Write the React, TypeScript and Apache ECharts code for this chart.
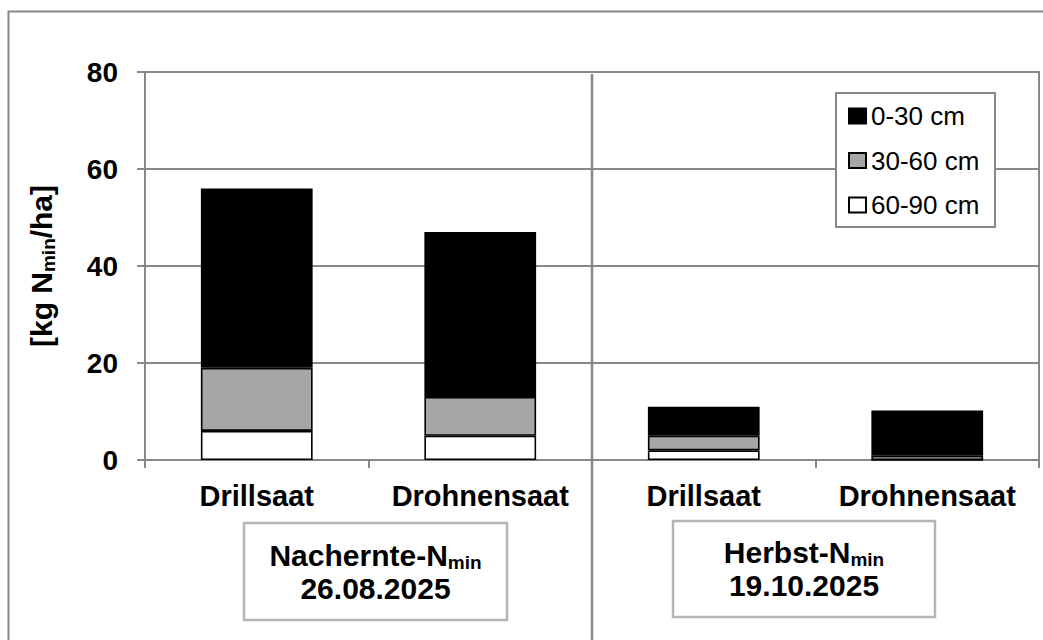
import React, { useEffect, useRef } from 'react';
import * as echarts from 'echarts';

const categories = ['Drillsaat', 'Drohnensaat', 'Drillsaat', 'Drohnensaat'];
const legendNames = ['0-30 cm', '30-60 cm', '60-90 cm'];
const depth0to30 = [37, 34, 6, 9.3];
const depth30to60 = [13, 8, 3, 0.9];
const depth60to90 = [6, 5, 2, 0];
const yMin = 0;
const yMax = 80;
const yStep = 20;
const groupTitles = ['Nachernte-N', 'Herbst-N'];
const groupDates = ['26.08.2025', '19.10.2025'];
const yTitleMain = ['[kg N', '/ha]'];
const subscript = 'min';

const FONT = '"Liberation Sans", Arial, sans-serif';
const GRID = '#888888';

export default function App() {
  const ref = useRef<HTMLDivElement>(null);
  useEffect(() => {
    if (!ref.current) return;
    const chart = echarts.init(ref.current, null, { renderer: 'svg' });
    const barStyle = (color: string) => ({ color, borderColor: '#000', borderWidth: 1.6 });
    const groupBox = (x: number, y: number, w: number, h: number, i: number) => [
      {
        type: 'rect',
        z: 3,
        shape: { x, y, width: w, height: h },
        style: { fill: '#fff', stroke: '#b5b5b5', lineWidth: 2.5 },
      },
      {
        type: 'text',
        z: 4,
        x: x + w / 2,
        y: y + h / 2,
        style: {
          text: `{b|${groupTitles[i]}}{s|${subscript}}\n{b|${groupDates[i]}}`,
          align: 'center',
          verticalAlign: 'middle',
          fill: '#000',
          rich: {
            b: { fontSize: 30, fontWeight: 'bold', fontFamily: FONT, lineHeight: 33, fill: '#000' },
            s: { fontSize: 19, fontWeight: 'bold', fontFamily: FONT, lineHeight: 8, verticalAlign: 'bottom', fill: '#000' },
          },
        },
      },
    ];
    chart.setOption({
      animation: false,
      backgroundColor: '#fff',
      textStyle: { fontFamily: FONT },
      grid: { left: 145, right: 4, top: 72, bottom: 180, show: true, borderColor: GRID, borderWidth: 2 },
      legend: {
        data: legendNames,
        orient: 'vertical',
        left: 848,
        top: 103,
        padding: 0,
        itemWidth: 17,
        itemHeight: 15,
        itemGap: 18.5,
        icon: 'rect',
        z: 5,
        textStyle: { fontSize: 26, color: '#000', fontFamily: FONT, lineHeight: 26 },
      },
      xAxis: {
        type: 'category',
        data: categories,
        axisLine: { lineStyle: { color: GRID, width: 2 } },
        axisTick: { show: true, interval: 0, length: 8, lineStyle: { color: GRID, width: 2 } },
        axisLabel: { interval: 0, margin: 21, fontSize: 29, fontWeight: 'bold', color: '#000', fontFamily: FONT },
      },
      yAxis: {
        type: 'value',
        min: yMin,
        max: yMax,
        interval: yStep,
        name: `${yTitleMain[0]}{s|${subscript}}${yTitleMain[1]}`,
        nameLocation: 'middle',
        nameGap: 87,
        nameRotate: 90,
        nameTextStyle: {
          fontSize: 30,
          fontWeight: 'bold',
          color: '#000',
          fontFamily: FONT,
          lineHeight: 34,
          rich: {
            s: { fontSize: 19, fontWeight: 'bold', fontFamily: FONT, lineHeight: 8, verticalAlign: 'bottom', color: '#000' },
          },
        },
        axisLine: { show: true, lineStyle: { color: GRID, width: 2 } },
        axisTick: { show: true, length: 8, lineStyle: { color: GRID, width: 2 } },
        axisLabel: { margin: 27, fontSize: 28, fontWeight: 'bold', color: '#000', fontFamily: FONT },
        splitLine: { show: true, lineStyle: { color: GRID, width: 2 } },
      },
      series: [
        { name: '60-90 cm', type: 'bar', stack: 'n', barWidth: '50%', data: depth60to90, itemStyle: barStyle('#ffffff') },
        { name: '30-60 cm', type: 'bar', stack: 'n', barWidth: '50%', data: depth30to60, itemStyle: barStyle('#a6a6a6') },
        { name: '0-30 cm', type: 'bar', stack: 'n', barWidth: '50%', data: depth0to30, itemStyle: barStyle('#000000') },
      ],
      graphic: [
        {
          type: 'rect',
          z: 1,
          silent: true,
          shape: { x: 8.5, y: 11.5, width: 1200, height: 800 },
          style: { fill: 'none', stroke: GRID, lineWidth: 2 },
        },
        {
          type: 'line',
          z: 3,
          shape: { x1: 592, y1: 74, x2: 592, y2: 640 },
          style: { stroke: GRID, lineWidth: 2.5 },
        },
        {
          type: 'rect',
          z: 3,
          shape: { x: 836, y: 93, width: 159, height: 134 },
          style: { fill: '#fff', stroke: GRID, lineWidth: 2 },
        },
        ...groupBox(244, 523, 263, 97, 0),
        ...groupBox(673, 521, 262, 96, 1),
      ],
    });
    return () => chart.dispose();
  }, []);
  return <div ref={ref} style={{ position: 'fixed', left: 0, top: 0, width: 1043, height: 640 }} />;
}
